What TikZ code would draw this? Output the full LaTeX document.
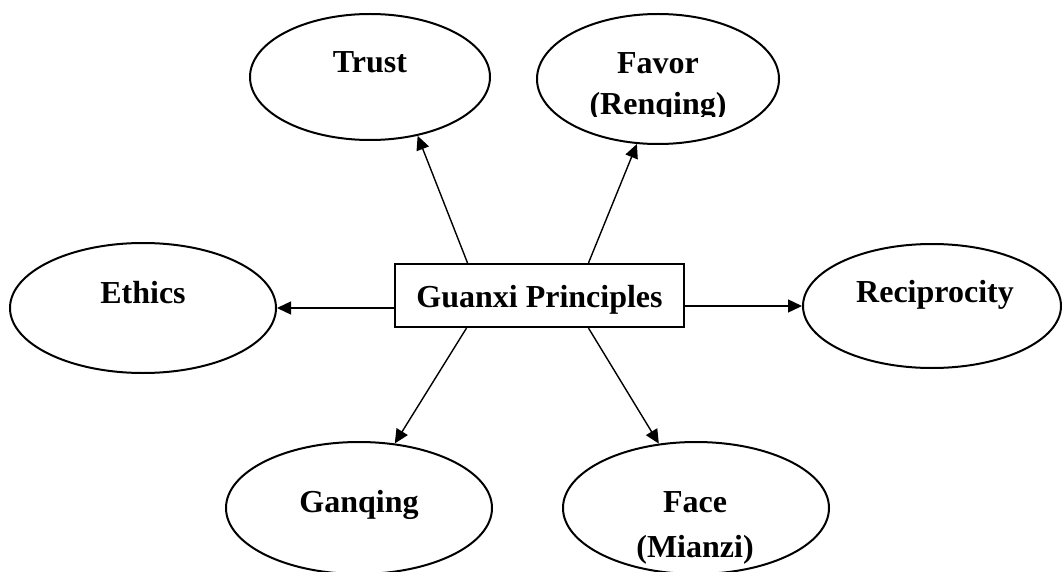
\documentclass[tikz,border=0pt]{standalone}
\usepackage{fontspec}
\setmainfont{Liberation Serif}
\usetikzlibrary{shapes.geometric,arrows.meta}
\begin{document}
\begin{tikzpicture}[x=1pt,y=-1pt,
  oval/.style={ellipse,draw,line width=2pt,inner sep=0pt},
  lbl/.style={anchor=base,inner sep=0pt,font=\bfseries\fontsize{32}{38}\selectfont},
  arr/.style={line width=1.4pt,-{Triangle[length=14pt,width=13pt]}},
  mainbox/.style={draw,line width=2.2pt,rectangle,inner sep=0pt,
    font=\bfseries\fontsize{32}{38}\selectfont,text height=25pt,text depth=2pt}]
\useasboundingbox (0,0) rectangle (1062,572);
% ellipses
\node[oval,minimum width=240pt,minimum height=126pt] (trust) at (370,77) {};
\node[oval,minimum width=242pt,minimum height=130pt] (favor) at (658,79) {};
\node[oval,minimum width=266pt,minimum height=130pt] (ethics) at (143,308) {};
\node[oval,minimum width=258pt,minimum height=124pt] (recip) at (932,306) {};
\node[oval,minimum width=266pt,minimum height=132pt] (ganqing) at (359,508) {};
\node[oval,minimum width=266pt,minimum height=132pt] (face) at (696,508) {};
% labels
\node[lbl] (trustT) at (370,73) {Trust};
\node[lbl] (favorT) at (658,74) {Favor};
\begin{scope}
  \clip (545,80) rectangle (775,117);
  \node[lbl] (favorR) at (658,115) {(Renqing)};
\end{scope}
\node[lbl] (ethicsT) at (143,303) {Ethics};
\node[lbl] (recipT) at (935,302) {Reciprocity};
\node[lbl] (ganqingT) at (359,512) {Ganqing};
\node[lbl] (faceT) at (695,512) {Face};
\node[lbl] (faceM) at (695,557) {(Mianzi)};
% centre box
\node[mainbox,minimum width=289pt,minimum height=63pt] (box) at (539.5,295.5) {Guanxi Principles};
% connectors
\draw[arr] ([xshift=-72pt]box.north) -- (trust.-51);
\draw[arr] ([xshift=49pt]box.north) -- (favor.-108);
\draw[arr] ([xshift=-73pt]box.south) -- (ganqing.61);
\draw[arr] ([xshift=49pt]box.south) -- (face.120);
\draw[arr] (box.west |- ethics.east) -- (ethics.east);
\draw[arr] (box.east |- recip.west) -- (recip.west);
\end{tikzpicture}
\end{document}
